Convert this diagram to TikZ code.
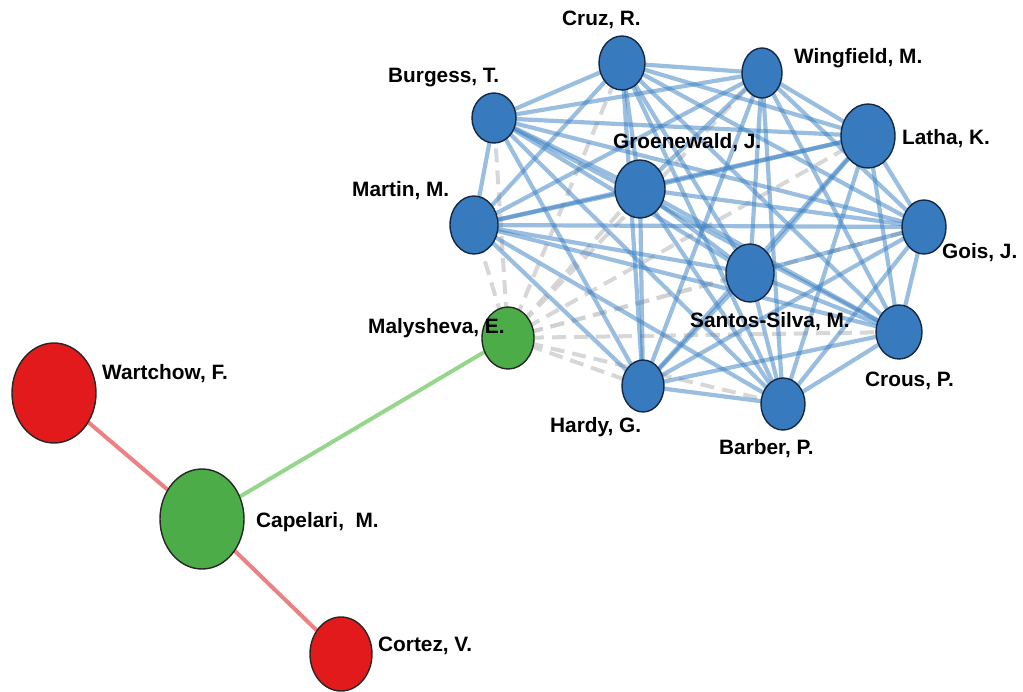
\documentclass[tikz,border=0pt]{standalone}
\usepackage{fontspec}
\setmainfont{Liberation Sans}
\usetikzlibrary{shapes.geometric,backgrounds}
\definecolor{nblue}{RGB}{55,122,190}
\definecolor{ngreen}{RGB}{76,172,72}
\definecolor{nred}{RGB}{226,26,28}
\definecolor{eblue}{RGB}{62,130,196}
\definecolor{egray}{RGB}{208,208,208}
\definecolor{egreen}{RGB}{150,214,140}
\definecolor{ered}{RGB}{236,128,130}
\definecolor{bline}{RGB}{20,40,70}
\tikzset{
  nd/.style={ellipse, inner sep=0pt, line width=1.4pt},
  bnode/.style={nd, fill=nblue, draw=bline},
  gnode/.style={nd, fill=ngreen, draw=black!85},
  rnode/.style={nd, fill=nred, draw=black!85},
  lbl/.style={anchor=west, inner sep=0pt, font=\fontsize{20.8}{24}\selectfont\bfseries, text=black},
  bedge/.style={eblue, line width=4.2pt, draw opacity=0.52},
  gedge/.style={egray, line width=4pt, dash pattern=on 14pt off 8pt, draw opacity=0.85},
  greenedge/.style={egreen, line width=4pt},
  rededge/.style={ered, line width=4pt}
}
\begin{document}
\begin{tikzpicture}[x=1pt,y=-1pt]
\useasboundingbox (0,0) rectangle (1023,691);
% nodes
\node[bnode, minimum width=46pt, minimum height=54pt] (cruz) at (622,63) {};
\node[bnode, minimum width=40pt, minimum height=50pt] (wing) at (762,73) {};
\node[bnode, minimum width=44pt, minimum height=50pt] (burg) at (494,118) {};
\node[bnode, minimum width=54pt, minimum height=64pt] (latha) at (868,136) {};
\node[bnode, minimum width=50pt, minimum height=58pt] (groen) at (640,189) {};
\node[bnode, minimum width=48pt, minimum height=58pt] (martin) at (474,225) {};
\node[bnode, minimum width=44pt, minimum height=54pt] (gois) at (924,227) {};
\node[bnode, minimum width=48pt, minimum height=58pt] (santos) at (750,273) {};
\node[bnode, minimum width=46pt, minimum height=54pt] (crous) at (899,332) {};
\node[bnode, minimum width=42pt, minimum height=52pt] (hardy) at (643,386) {};
\node[bnode, minimum width=44pt, minimum height=52pt] (barber) at (783,404) {};
\node[gnode, minimum width=52pt, minimum height=62pt] (maly) at (508,338) {};
\node[rnode, minimum width=84pt, minimum height=100pt] (wart) at (54,393) {};
\node[gnode, minimum width=84pt, minimum height=100pt] (cap) at (202,519) {};
\node[rnode, minimum width=62pt, minimum height=74pt] (cortez) at (341,654) {};
% edges
\begin{pgfonlayer}{background}
\foreach \b in {cruz,wing,burg,latha,groen,martin,gois,santos,crous,hardy,barber}
  \draw[gedge] (maly.center) -- (\b.center);
\foreach \a [count=\i] in {cruz,wing,burg,latha,groen,martin,gois,santos,crous,hardy,barber}{
  \foreach \b [count=\j] in {cruz,wing,burg,latha,groen,martin,gois,santos,crous,hardy,barber}{
    \ifnum\j>\i \draw[bedge] (\a.center) -- (\b.center);\fi
  }
}
\draw[greenedge] (maly) -- (cap);
\draw[rededge] (wart) -- (cap);
\draw[rededge] (cap) -- (cortez);
\end{pgfonlayer}
% labels
\node[lbl] (lcruz) at (562,20) {Cruz, R.};
\node[lbl] (lburg) at (388,78) {Burgess, T.};
\node[lbl] (lwing) at (794,58) {Wingfield, M.};
\node[lbl] (llatha) at (902,139) {Latha, K.};
\node[lbl] (lgroen) at (613,143) {Groenewald, J.};
\node[lbl] (lmartin) at (352,191) {Martin, M.};
\node[lbl] (lgois) at (942,253) {Gois, J.};
\node[lbl] (lsantos) at (690,322) {Santos-Silva, M.};
\node[lbl] (lmaly) at (368,328) {Malysheva, E.};
\node[lbl] (lcrous) at (865,381) {Crous, P.};
\node[lbl] (lhardy) at (550,427) {Hardy, G.};
\node[lbl] (lbarber) at (719,449) {Barber, P.};
\node[lbl] (lwart) at (102,374) {Wartchow, F.};
\node[lbl] (lcap) at (256,522) {Capelari,\ \ M.};
\node[lbl] (lcortez) at (378,646) {Cortez, V.};
\end{tikzpicture}
\end{document}
